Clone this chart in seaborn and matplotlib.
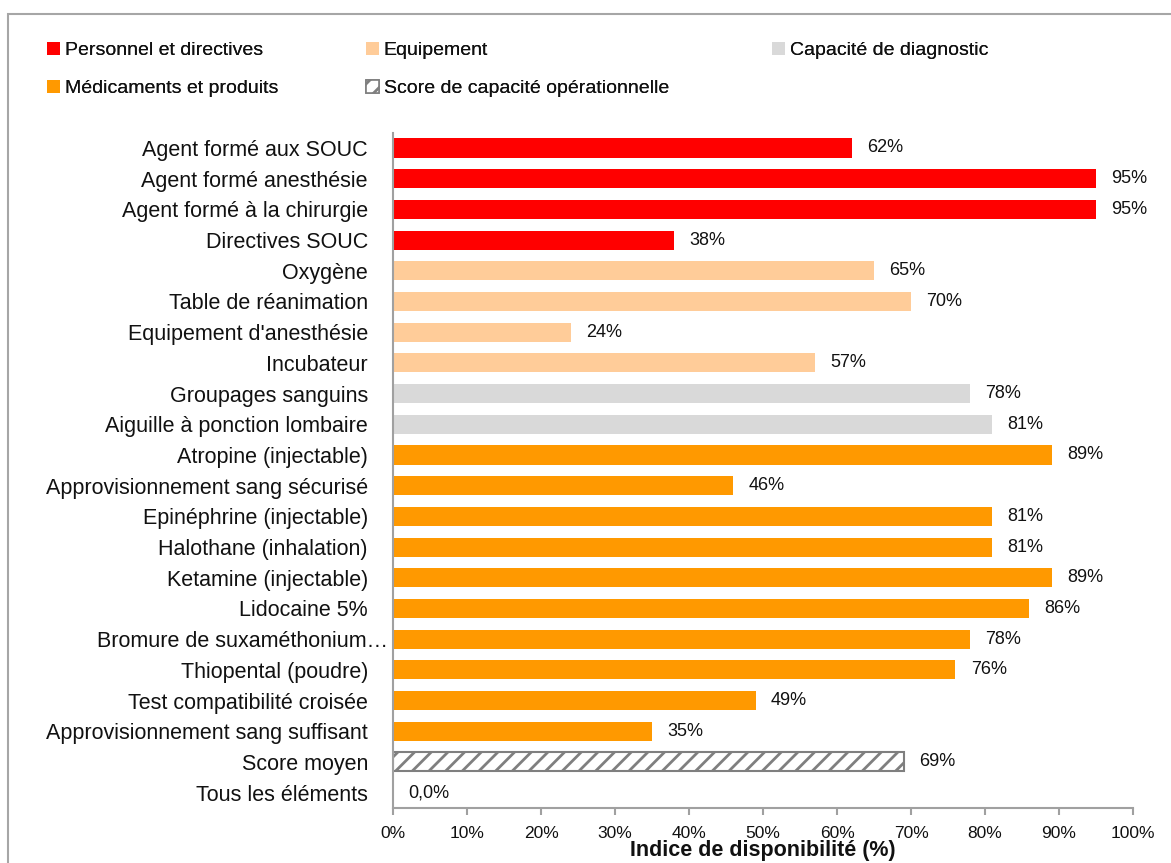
import matplotlib
matplotlib.use("Agg")
import matplotlib.pyplot as plt
import matplotlib.transforms as mtransforms
import seaborn as sns
import pandas as pd
import numpy as np
from matplotlib.patches import Patch, Rectangle
from matplotlib.ticker import PercentFormatter, MultipleLocator

labels = [
    "Agent formé aux SOUC", "Agent formé anesthésie", "Agent formé à la chirurgie",
    "Directives SOUC", "Oxygène", "Table de réanimation", "Equipement d'anesthésie",
    "Incubateur", "Groupages sanguins", "Aiguille à ponction lombaire",
    "Atropine (injectable)", "Approvisionnement sang sécurisé", "Epinéphrine (injectable)",
    "Halothane (inhalation)", "Ketamine (injectable)", "Lidocaine 5%",
    "Bromure de suxaméthonium…", "Thiopental (poudre)", "Test compatibilité croisée",
    "Approvisionnement sang suffisant", "Score moyen", "Tous les éléments",
]
values = [0.62, 0.95, 0.95, 0.38, 0.65, 0.70, 0.24, 0.57, 0.78, 0.81,
          0.89, 0.46, 0.81, 0.81, 0.89, 0.86, 0.78, 0.76, 0.49, 0.35, 0.69, 0.0]
groups = (["Personnel et directives"] * 4 + ["Equipement"] * 4 +
          ["Capacité de diagnostic"] * 2 + ["Médicaments et produits"] * 10 +
          ["Score de capacité opérationnelle"] * 2)
value_texts = ["62%", "95%", "95%", "38%", "65%", "70%", "24%", "57%", "78%", "81%",
               "89%", "46%", "81%", "81%", "89%", "86%", "78%", "76%", "49%", "35%",
               "69%", "0,0%"]
group_order = ["Personnel et directives", "Equipement", "Capacité de diagnostic",
               "Médicaments et produits", "Score de capacité opérationnelle"]
group_colors = ["#FF0000", "#FFCC99", "#D9D9D9", "#FF9900", "#FFFFFF"]
x_label = "Indice de disponibilité (%)"

sns.set_theme(style="white")
from matplotlib import font_manager
names = {f.name for f in font_manager.fontManager.ttflist}
fam = "Liberation Sans Narrow" if "Liberation Sans Narrow" in names else "Liberation Sans"
plt.rcParams["font.family"] = [fam, "DejaVu Sans"]
plt.rcParams["hatch.color"] = "#7F7F7F"
plt.rcParams["hatch.linewidth"] = 2.0

GRAY = "#A0A0A0"
TXT = "#111111"
df = pd.DataFrame({"label": labels, "value": values, "group": groups})

fig = plt.figure(figsize=(11.71, 8.63), dpi=100)
ax = fig.add_axes([0.3356, 0.0637, 0.6320, 0.7826])

sns.barplot(data=df, y="label", x="value", hue="group", hue_order=group_order,
            palette=dict(zip(group_order, group_colors)), dodge=False, width=0.62,
            legend=False, ax=ax, saturation=1, linewidth=0)

score_idx = labels.index("Score moyen")
for p in ax.patches:
    yc = p.get_y() + p.get_height() / 2
    if abs(yc - score_idx) < 0.3:
        p.set_hatch("//")
        p.set_edgecolor("#7F7F7F")
        p.set_linewidth(1.5)
        p.set_facecolor("white")

for i, (v, t) in enumerate(zip(values, value_texts)):
    ax.annotate(t, (v, i), xytext=(11, 0), textcoords="offset points",
                va="center", ha="left", fontsize=13, color=TXT)

ax.set_xlim(0, 1.0)
ax.set_ylim(len(labels) - 0.5, -0.5)
ax.xaxis.set_major_locator(MultipleLocator(0.1))
ax.xaxis.set_major_formatter(PercentFormatter(1.0, decimals=0))
ax.set_ylabel("")
ax.set_xlabel(x_label, fontsize=15.5, fontweight="bold", color=TXT)
ax.xaxis.set_label_coords(0.5, -0.047)
for s in ["top", "right"]:
    ax.spines[s].set_visible(False)
for s in ["left", "bottom"]:
    ax.spines[s].set_color(GRAY)
    ax.spines[s].set_linewidth(1.5)
ax.tick_params(axis="x", direction="out", length=5, width=1.5, color=GRAY,
               labelsize=12.5, labelcolor=TXT, pad=8, bottom=True)
ax.tick_params(axis="y", length=0, labelsize=15.5, labelcolor=TXT, pad=18)
ax.grid(False)

# the truncated label sits further right in the reference
for tl in ax.get_yticklabels():
    if tl.get_text().startswith("Bromure"):
        tl.set_transform(tl.get_transform() +
                         mtransforms.ScaledTranslation(0.2, 0, fig.dpi_scale_trans))

# legend columns
def mk(i):
    if i == 4:
        return Patch(facecolor="white", edgecolor="#7F7F7F", hatch="//", linewidth=1.2)
    return Patch(facecolor=group_colors[i], edgecolor="none")

cols = [([0, 3], 47), ([1, 4], 366), ([2], 772)]
for idx, xpx in cols:
    leg = fig.legend([mk(i) for i in idx], [group_order[i] for i in idx],
                     loc="upper left", bbox_to_anchor=(xpx / 1171, 1 - 42 / 863),
                     frameon=False, fontsize=14, handlelength=0.66, handleheight=0.66,
                     handletextpad=0.25, labelspacing=1.05, borderaxespad=0,
                     borderpad=0)
    for t in leg.get_texts():
        t.set_color(TXT)
    fig.add_artist(leg)

fig.patches.append(Rectangle((8 / 1171, -0.1), 1.2, 0.1 + 1 - 14 / 863,
                             transform=fig.transFigure, fill=False,
                             edgecolor="#A6A6A6", linewidth=1.5))

fig.savefig("out.png", dpi=100)
